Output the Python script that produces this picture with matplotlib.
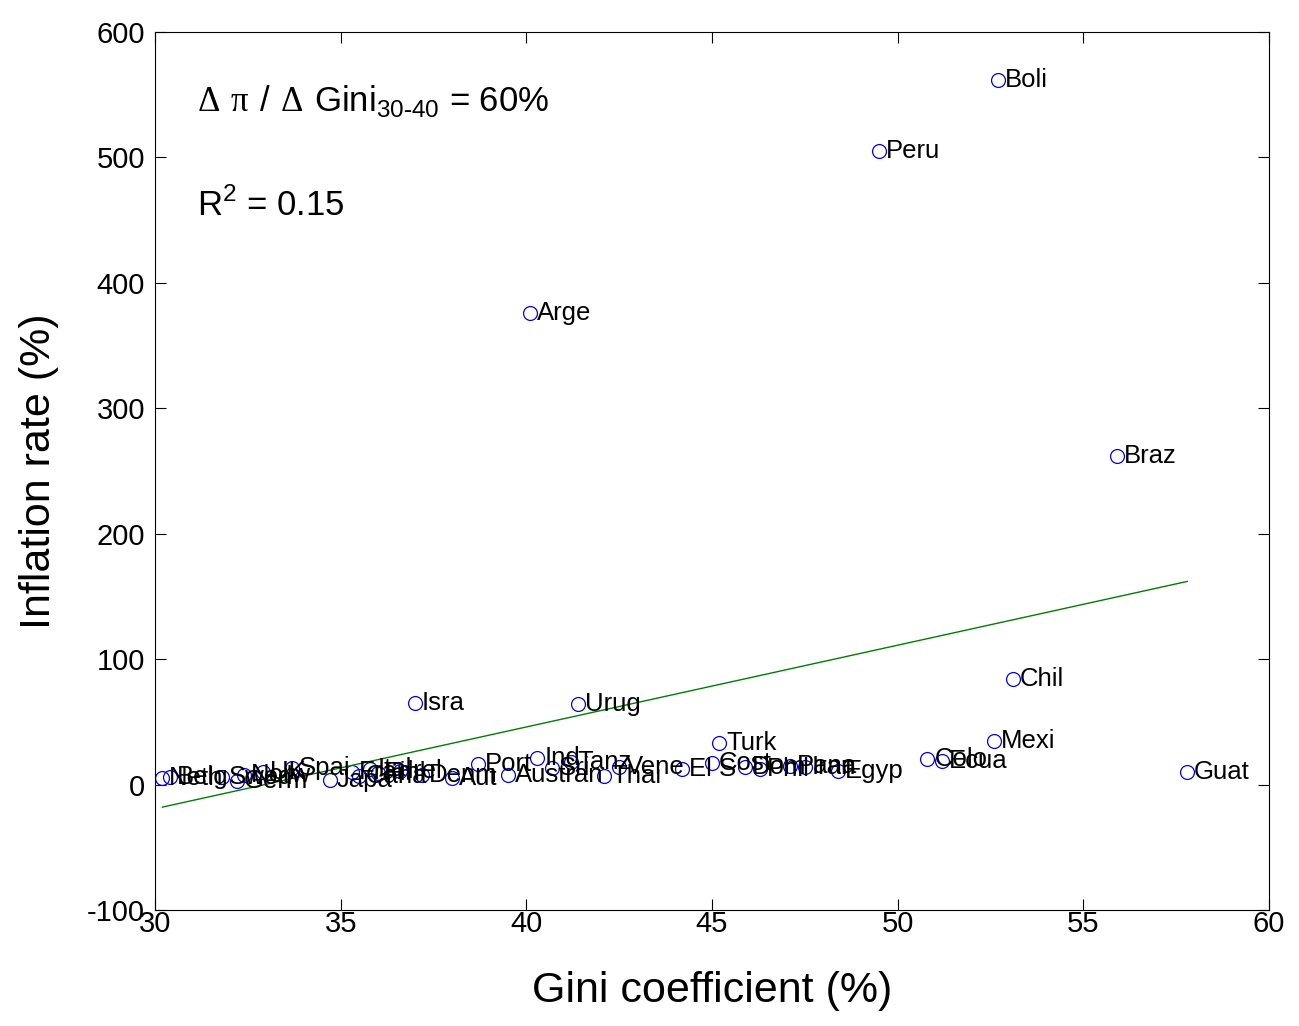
# Inflation vs. income inequality scatter, MATLAB-like styling

import matplotlib
matplotlib.use("Agg")
import matplotlib.pyplot as plt
import numpy as np

plt.rcParams["font.family"] = ["Liberation Sans", "DejaVu Sans"]
plt.rcParams["mathtext.fontset"] = "custom"
plt.rcParams["mathtext.rm"] = "Liberation Serif"
plt.rcParams["mathtext.sf"] = "Liberation Sans"
plt.rcParams["axes.unicode_minus"] = False

# Country labels, Gini coefficient (%) and inflation rate (%)
COUNTRIES = ["Neth", "Belg", "Swed", "Germ", "Norw", "UK", "Spai", "Japa",
             "Fran", "Cana", "Ital", "Finl", "Irel", "Denm", "Aut", "Isra",
             "Port", "Austran", "Arge", "Ind", "Sri", "Tanz", "Urug", "Thai",
             "Vene", "El S", "Cost", "Turk", "Dom", "Phil", "Pana", "Iran",
             "Egyp", "Peru", "Colo", "Ecua", "Mexi", "Boli", "Chil", "Braz",
             "Guat"]
GINI = [30.2, 30.4, 31.8, 32.2, 32.4, 32.9, 33.7, 34.7,
        35.3, 35.5, 35.8, 36.0, 36.6, 37.2, 38.0, 37.0,
        38.7, 39.5, 40.1, 40.3, 40.7, 41.2, 41.4, 42.1,
        42.5, 44.2, 45.0, 45.2, 45.9, 46.3, 47.1, 47.5,
        48.4, 49.5, 50.8, 51.2, 52.6, 52.7, 53.1, 55.9,
        57.8]
INFLATION = [5, 6, 6, 3, 8, 10, 13, 4,
             10, 7, 12, 9, 11, 8, 5, 65,
             16, 8, 376, 21, 13, 18, 64, 7,
             14, 12, 17, 33, 14, 12, 15, 14,
             11, 505, 20, 19, 35, 562, 84, 262,
             10]

# Least-squares fit shown on the chart (slope, intercept)
FIT_SLOPE = 6.52
FIT_INTERCEPT = -214.9

fig = plt.figure(figsize=(12.99, 10.26), dpi=100)
ax = fig.add_axes([0.1193, 0.1131, 0.8576, 0.8557])

ax.plot(GINI, INFLATION, "o", markersize=10, markerfacecolor="none",
        markeredgecolor="#0000ff", markeredgewidth=0.9, linestyle="none")

for name, gx, iy in zip(COUNTRIES, GINI, INFLATION):
    ax.annotate(name, (gx, iy), xytext=(5, 0), textcoords="offset points",
                va="center", ha="left", fontsize=18.5, color="black")

xfit = np.array([min(GINI), max(GINI)])
ax.plot(xfit, FIT_SLOPE * xfit + FIT_INTERCEPT, color="#008000", linewidth=1.0)

ax.text(31.13, 545,
        r"$\Delta\ \mathrm{\pi}\ \mathsf{/}\ \Delta\ \mathsf{Gini}_{\mathsf{30\text{-}40}}$ = 60%",
        fontsize=25, va="center", ha="left")
ax.text(31.13, 462, r"R$^\mathsf{2}$ = 0.15", fontsize=25, va="center", ha="left")

ax.set_xlim(30, 60)
ax.set_ylim(-100, 600)
ax.set_xticks([30, 35, 40, 45, 50, 55, 60])
ax.set_yticks([-100, 0, 100, 200, 300, 400, 500, 600])
ax.tick_params(direction="in", length=8, width=0.8, labelsize=21,
               top=True, right=True)
ax.tick_params(axis="x", pad=0)
ax.tick_params(axis="y", pad=7)
ax.set_xlabel("Gini coefficient (%)", fontsize=31, labelpad=24)
ax.set_ylabel("Inflation rate (%)", fontsize=31, labelpad=20)
for spine in ax.spines.values():
    spine.set_linewidth(0.8)

fig.savefig("out.png", dpi=100)
